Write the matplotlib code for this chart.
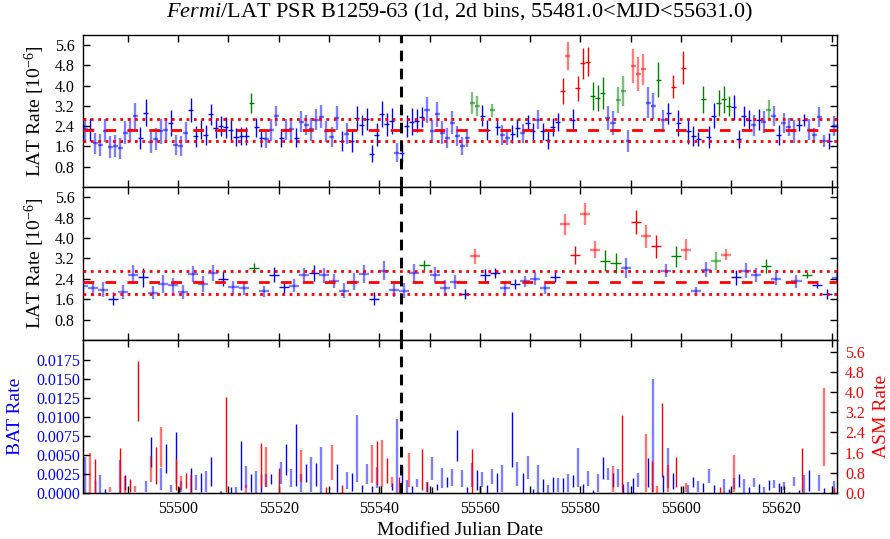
import numpy as np
import matplotlib
matplotlib.use('Agg')
import matplotlib.pyplot as plt
from matplotlib.ticker import MultipleLocator, FixedLocator, FormatStrFormatter

plt.rcParams['font.family'] = ['Liberation Serif', 'DejaVu Serif']
plt.rcParams['mathtext.fontset'] = 'custom'
plt.rcParams['mathtext.rm'] = 'Liberation Serif'
plt.rcParams['mathtext.it'] = 'Liberation Serif:italic'

MJD_START, MJD_STOP = 55481.0, 55631.0
PERIASTRON = 55544.3

# LAT light curve, 1-day bins (rate in 1e-6 ph/cm2/s)
lat1_mjd = 55481.5 + np.arange(150)
lat1_rate = np.array([
    2.28, 2.28, 1.73, 1.67, 2.22, 1.57, 1.63, 1.53, 2.15, 2.26,
    2.81, 1.93, 2.94, 1.76, 1.89, 2.19, 2.26, 2.52, 1.67, 1.63,
    2.15, 3.04, 2.00, 2.26, 2.05, 2.87, 2.31, 2.41, 2.35, 2.26,
    1.97, 2.00, 2.00, 3.31, 2.35, 1.93, 1.89, 2.24, 2.79, 1.93,
    2.26, 2.28, 1.94, 2.58, 2.45, 2.28, 2.65, 2.78, 2.19, 1.97,
    2.72, 1.80, 2.10, 1.80, 2.72, 2.45, 2.68, 1.31, 2.06, 2.89,
    2.47, 2.62, 1.36, 1.34, 2.41, 2.58, 2.62, 2.76, 3.04, 2.19,
    2.87, 2.15, 1.93, 2.54, 2.00, 1.63, 1.93, 3.33, 3.20, 2.81,
    2.26, 3.02, 2.36, 2.06, 1.95, 2.10, 2.32, 2.12, 2.52, 2.19,
    2.65, 2.19, 1.84, 2.36, 2.58, 3.79, 5.17, 2.65, 3.90, 4.88,
    4.95, 3.59, 3.50, 3.70, 2.72, 2.52, 3.44, 3.79, 1.80, 4.78,
    4.46, 4.64, 3.33, 3.20, 4.23, 2.65, 2.91, 3.96, 2.52, 4.71,
    2.19, 2.00, 1.89, 3.46, 1.97, 2.81, 3.31, 3.46, 3.20, 3.15,
    1.89, 2.81, 2.65, 2.43, 2.65, 2.56, 3.04, 2.81, 2.06, 2.54,
    2.36, 2.19, 2.45, 2.65, 2.26, 2.06, 2.76, 1.82, 1.82, 2.41])
lat1_err = np.array([
    0.43, 0.46, 0.41, 0.43, 0.46, 0.43, 0.44, 0.41, 0.46, 0.47,
    0.52, 0.45, 0.54, 0.41, 0.44, 0.49, 0.48, 0.50, 0.39, 0.39,
    0.43, 0.46, 0.41, 0.38, 0.39, 0.41, 0.39, 0.38, 0.41, 0.39,
    0.35, 0.36, 0.35, 0.39, 0.36, 0.36, 0.34, 0.43, 0.39, 0.37,
    0.41, 0.43, 0.37, 0.41, 0.41, 0.45, 0.41, 0.46, 0.41, 0.41,
    0.47, 0.39, 0.41, 0.43, 0.47, 0.41, 0.43, 0.33, 0.45, 0.52,
    0.46, 0.51, 0.36, 0.37, 0.43, 0.52, 0.46, 0.39, 0.50, 0.47,
    0.49, 0.45, 0.39, 0.44, 0.39, 0.36, 0.37, 0.43, 0.40, 0.42,
    0.39, 0.26, 0.31, 0.39, 0.31, 0.36, 0.35, 0.37, 0.33, 0.34,
    0.38, 0.33, 0.35, 0.35, 0.36, 0.51, 0.57, 0.41, 0.49, 0.61,
    0.58, 0.55, 0.51, 0.64, 0.47, 0.48, 0.52, 0.58, 0.43, 0.66,
    0.68, 0.62, 0.61, 0.51, 0.69, 0.39, 0.42, 0.46, 0.52, 0.66,
    0.49, 0.39, 0.28, 0.52, 0.43, 0.49, 0.52, 0.52, 0.38, 0.49,
    0.36, 0.39, 0.39, 0.43, 0.41, 0.43, 0.38, 0.39, 0.39, 0.39,
    0.36, 0.46, 0.25, 0.25, 0.41, 0.26, 0.38, 0.24, 0.33, 0.41])
lat1_green = [33, 77, 78, 81, 101, 102, 103, 106, 107, 114, 123, 126, 127, 128, 136]
lat1_red = [95, 96, 98, 99, 100, 109, 110, 111, 117, 119]
lat1_faint = [0, 2, 3, 4, 5, 6, 7, 8, 9, 10, 13, 14, 15, 16, 18, 19, 20, 36, 37, 38,
              40, 41, 43, 44, 45, 46, 47, 48, 49, 50, 52, 62, 68, 69, 70, 71, 72, 73,
              74, 75, 76, 77, 78, 81, 83, 84, 87, 90, 96, 104, 105, 106, 107, 108, 109,
              110, 111, 112, 113, 115, 133, 135, 136, 137, 139, 140, 141, 144, 145,
              146, 147, 149]

# LAT light curve, 2-day bins
lat2_mjd = 55481.0 + 2 * np.arange(76)
lat2_rate = np.array([
    2.11, 2.02, 1.98, 1.62, 1.88, 2.56, 2.46, 1.85, 2.20, 2.15,
    1.88, 2.59, 2.20, 2.63, 2.40, 2.07, 2.02, 2.83, 1.91, 2.56,
    2.08, 2.13, 2.54, 2.63, 2.54, 2.30, 1.94, 2.28, 2.59, 1.62,
    2.72, 1.98, 1.94, 2.63, 2.93, 2.56, 2.04, 2.28, 1.81, 3.28,
    2.54, 2.63, 2.02, 2.20, 2.30, 2.41, 2.02, 2.46, 4.53, 3.32,
    4.94, 3.54, 3.11, 3.02, 2.83, 4.63, 4.07, 3.68, 2.72, 3.28,
    3.54, 1.94, 2.76, 3.09, 3.35, 2.46, 2.72, 2.56, 2.89, 2.41,
    np.nan, 2.30, 2.56, 2.17, 1.81, 2.43])
lat2_err = np.array([
    0.25, 0.30, 0.28, 0.25, 0.28, 0.38, 0.38, 0.25, 0.35, 0.30,
    0.28, 0.30, 0.30, 0.33, 0.30, 0.25, 0.25, 0.18, 0.22, 0.30,
    0.25, 0.25, 0.30, 0.33, 0.30, 0.28, 0.30, 0.33, 0.35, 0.25,
    0.38, 0.30, 0.28, 0.35, 0.20, 0.30, 0.30, 0.28, 0.20, 0.30,
    0.25, 0.20, 0.20, 0.20, 0.22, 0.25, 0.22, 0.20, 0.40, 0.35,
    0.42, 0.33, 0.42, 0.38, 0.40, 0.47, 0.45, 0.45, 0.25, 0.42,
    0.42, 0.15, 0.28, 0.35, 0.20, 0.30, 0.30, 0.28, 0.28, 0.25,
    np.nan, 0.25, 0.12, 0.15, 0.20, 0.20])
lat2_green = [17, 34, 52, 53, 59, 63, 68, 72]
lat2_red = [39, 48, 49, 50, 51, 55, 56, 57, 60, 64]
lat2_faint = [0, 1, 2, 4, 5, 7, 8, 9, 10, 11, 12, 13, 15, 16, 18, 21, 22, 24, 25, 26,
              27, 28, 30, 31, 32, 33, 35, 36, 37, 39, 42, 44, 45, 46, 48, 50, 51, 54,
              56, 58, 60, 61, 62, 63, 64, 66, 67, 69, 71, 75]

# mean flux and +/- 1 sigma band
lat_mean = 2.26
lat_band = (1.82, 2.70)

# Swift/BAT daily rate (units of 1e-3 cts/cm2/s)
bat_mjd = [
    55481.5, 55483.5, 55484.5, 55485.5, 55488.5, 55489.5, 55493.5, 55494.5, 55496.5, 55497.5,
    55498.5, 55499.5, 55500.5, 55502.5, 55503.5, 55504.5, 55505.5, 55506.5, 55508.5, 55510.5,
    55511.5, 55512.5, 55513.5, 55514.5, 55515.5, 55516.5, 55517.5, 55518.5, 55520.5, 55521.5,
    55522.5, 55523.5, 55524.5, 55525.5, 55526.5, 55527.5, 55528.5, 55531.5, 55533.5, 55534.5,
    55535.5, 55536.5, 55537.5, 55538.5, 55539.5, 55542.5, 55543.5, 55544.5, 55545.5, 55546.5,
    55547.5, 55549.5, 55550.5, 55551.5, 55552.5, 55553.5, 55554.5, 55555.5, 55556.5, 55557.5,
    55558.5, 55559.5, 55560.5, 55561.5, 55562.5, 55563.5, 55564.5, 55566.5, 55567.5, 55568.5,
    55569.5, 55570.5, 55571.5, 55572.5, 55573.5, 55574.5, 55575.5, 55576.5, 55577.5, 55578.5,
    55579.5, 55580.5, 55581.5, 55582.5, 55583.5, 55584.5, 55585.5, 55586.5, 55587.5, 55588.5,
    55589.5, 55590.5, 55591.5, 55593.5, 55594.5, 55596.5, 55597.5, 55598.5, 55601.5, 55602.5,
    55603.5, 55604.5, 55605.5, 55606.5, 55608.5, 55609.5, 55610.5, 55611.5, 55612.5, 55613.5,
    55614.5, 55615.5, 55616.5, 55617.5, 55618.5, 55619.5, 55620.5, 55621.5, 55622.5, 55623.5,
    55624.5, 55625.5, 55627.5, 55628.5, 55630.5]
bat_rate = np.array([
    2.38, 0.88, 1.21, 0.26, 2.20, 1.39, 0.88, 5.42, 1.87, 4.54,
    0.62, 4.66, 0.90, 1.72, 1.39, 1.43, 1.54, 2.84, 0.15, 0.44,
    0.44, 3.64, 2.10, 1.32, 1.50, 1.32, 1.68, 1.85, 2.65, 4.43,
    1.99, 5.05, 1.35, 2.67, 2.45, 2.45, 3.08, 1.99, 1.65, 1.50,
    5.90, 0.62, 2.51, 0.55, 2.05, 0.88, 4.89, 2.43, 0.88, 0.51,
    1.32, 0.84, 3.22, 0.79, 1.94, 1.50, 2.03, 6.31, 1.94, 0.40,
    2.38, 1.72, 1.83, 0.55, 2.16, 1.39, 1.94, 7.12, 2.49, 1.32,
    3.35, 0.26, 1.87, 0.99, 0.55, 1.17, 1.06, 1.06, 1.34, 1.57,
    3.37, 0.62, 1.92, 0.22, 1.32, 3.31, 2.54, 1.76, 1.98, 0.62,
    0.77, 0.99, 1.72, 2.76, 7.60, 1.30, 3.27, 1.59, 0.55, 1.50,
    0.90, 0.77, 2.21, 0.55, 0.93, 0.26, 1.21, 1.68, 0.93, 0.44,
    1.39, 0.62, 0.44, 1.06, 1.17, 0.73, 0.95, 0.11, 1.54, 0.22,
    1.21, 1.68, 1.34, 0.35, 0.84]) * 1e-3
bat_err = np.array([
    2.34, 0.84, 1.17, 0.23, 2.16, 0.99, 0.70, 1.94, 1.48, 1.94,
    0.44, 3.37, 0.73, 1.54, 0.99, 1.25, 1.37, 1.88, 0.11, 0.40,
    0.40, 3.24, 1.48, 1.15, 1.46, 1.15, 0.84, 0.66, 1.50, 2.05,
    1.15, 4.08, 1.17, 1.17, 2.27, 1.48, 3.04, 1.81, 1.17, 1.19,
    4.40, 0.44, 1.32, 0.38, 1.43, 0.48, 4.85, 1.15, 0.84, 0.46,
    0.49, 0.66, 1.50, 0.40, 1.32, 0.66, 1.10, 2.03, 1.10, 0.36,
    1.54, 1.32, 0.99, 0.51, 0.97, 1.21, 1.76, 3.64, 1.57, 1.28,
    1.54, 0.23, 1.83, 0.82, 0.51, 0.99, 0.88, 0.88, 1.17, 0.82,
    2.54, 0.58, 0.99, 0.18, 1.15, 1.50, 0.82, 0.93, 1.15, 0.58,
    0.73, 0.95, 0.88, 1.92, 7.42, 1.10, 2.65, 1.10, 0.51, 0.66,
    0.73, 0.60, 0.93, 0.51, 0.88, 0.23, 0.73, 0.84, 0.88, 0.40,
    0.55, 0.58, 0.40, 0.66, 0.55, 0.55, 0.55, 0.07, 0.62, 0.18,
    1.17, 1.37, 1.04, 0.31, 0.79]) * 1e-3

# RXTE/ASM daily rate (cts/s)
asm_mjd = [
    55482.5, 55483.5, 55486.5, 55488.5, 55489.5, 55490.5, 55491.5, 55492.1, 55494.5, 55495.5,
    55496.5, 55499.5, 55500.5, 55501.5, 55502.5, 55509.5, 55513.5, 55516.5, 55517.5, 55520.0,
    55524.5, 55529.5, 55530.5, 55532.5, 55538.5, 55539.5, 55540.5, 55541.5, 55542.5, 55544.0,
    55546.0, 55548.5, 55549.5, 55558.5, 55586.5, 55588.2, 55593.0, 55594.2, 55595.3, 55596.2,
    55597.5, 55599.0, 55601.0, 55607.7, 55610.5, 55624.0, 55628.5, 55630.5]
asm_rate = [
    0.79, 0.67, 0.14, 0.89, 0.34, 0.30, 0.17, 4.04, 0.96, 1.08,
    1.82, 0.73, 0.40, 0.48, 0.36, 1.93, 0.16, 1.11, 1.03, 0.50,
    1.08, 0.13, 1.21, 0.16, 1.14, 1.20, 1.18, 0.88, 0.45, 0.33,
    0.92, 0.92, 0.25, 0.87, 0.56, 1.57, 1.20, 0.67, 0.15, 2.10,
    0.58, 0.83, 0.22, 0.13, 0.78, 0.91, 2.61, 0.11]
asm_err = [
    0.78, 0.66, 0.09, 0.88, 0.33, 0.25, 0.12, 1.19, 0.51, 0.73,
    0.78, 0.61, 0.28, 0.30, 0.35, 1.88, 0.15, 0.86, 0.78, 0.48,
    0.63, 0.12, 0.69, 0.15, 0.75, 0.88, 0.93, 0.50, 0.20, 0.32,
    0.67, 0.81, 0.20, 0.86, 0.51, 1.52, 1.14, 0.61, 0.14, 1.45,
    0.53, 0.58, 0.17, 0.12, 0.73, 0.86, 1.54, 0.10]

# days with neither instrument flagged (plotted in black)
other_mjd = [55500.2, 55540.3, 55550.5, 55560.0, 55600.5, 55620.5]
other_rate = [0.15, 0.15, 0.12, 0.15, 0.15, 0.14]
other_err = [0.10, 0.14, 0.11, 0.14, 0.14, 0.13]

BLUE, GREEN, RED = '#0000ff', '#008000', '#ff0000'


def draw_lat(ax, mjd, rate, err, halfwidth, green, red, faint):
    n = len(rate)
    colour = np.array([BLUE] * n, dtype=object)
    colour[green] = GREEN
    colour[red] = RED
    light = np.zeros(n, dtype=bool)
    light[faint] = True
    ok = ~np.isnan(rate)
    for c in (BLUE, GREEN, RED):
        for is_light in (True, False):
            m = ok & (colour == c) & (light == is_light)
            if not m.any():
                continue
            ax.errorbar(mjd[m], rate[m], yerr=err[m], xerr=halfwidth, fmt='none',
                        ecolor=c, elinewidth=1.7 if is_light else 1.0,
                        alpha=0.5 if is_light else 1.0, capsize=0, zorder=3)
    ax.axhline(lat_mean, color=RED, lw=2, ls=(0, (3.85, 4.05)), zorder=5)
    for lev in lat_band:
        ax.axhline(lev, color=RED, lw=2, ls=(0, (1, 1.65)), zorder=5)
    ax.axvline(PERIASTRON, color='black', lw=2.2, ls=(0, (3.5, 2.4)), zorder=6)
    ax.set_ylim(0, 6.0)
    ax.yaxis.set_major_locator(FixedLocator([0.8, 1.6, 2.4, 3.2, 4.0, 4.8, 5.6]))
    ax.yaxis.set_major_formatter(FormatStrFormatter('%.1f'))
    ax.set_ylabel(r'LAT Rate [10$^{-6}$]', fontsize=14, va='center')
    ax.yaxis.set_label_coords(-0.063, 0.5)


def style_x(ax, labels):
    ax.set_xlim(MJD_START, MJD_STOP)
    ax.xaxis.set_major_locator(MultipleLocator(20))
    ax.xaxis.set_minor_locator(MultipleLocator(10))
    ax.xaxis.set_major_formatter(FormatStrFormatter('%d'))
    ax.tick_params(which='both', direction='in', top=True, right=True, length=5,
                   width=1, labelsize=11.5, pad=6, labelbottom=labels)
    for s in ax.spines.values():
        s.set_linewidth(1.0)


fig = plt.figure(figsize=(8.9, 5.39), dpi=100)
L, W = 0.0929, 0.8472
ax1 = fig.add_axes([L, 0.6531, W, 0.2820])
ax2 = fig.add_axes([L, 0.3692, W, 0.2839])
ax3 = fig.add_axes([L, 0.0853, W, 0.2839])

draw_lat(ax1, lat1_mjd, lat1_rate, lat1_err, 0.5, lat1_green, lat1_red, lat1_faint)
draw_lat(ax2, lat2_mjd, lat2_rate, lat2_err, 1.0, lat2_green, lat2_red, lat2_faint)
style_x(ax1, False)
style_x(ax2, False)

# X-ray panel: BAT on the left axis, ASM on the right
bat_mjd = np.array(bat_mjd)
idx = np.arange(len(bat_mjd))
for sel, lw, a in ((idx % 2 == 0, 1.7, 0.5), (idx % 2 == 1, 1.0, 1.0)):
    ax3.errorbar(bat_mjd[sel], bat_rate[sel], yerr=bat_err[sel], fmt='none',
                 ecolor=BLUE, elinewidth=lw, alpha=a, capsize=0)
style_x(ax3, True)
ax3.tick_params(axis='y', which='both', right=False, labelcolor=BLUE, pad=2)
ax3.set_ylim(0, 0.0202)
ax3.yaxis.set_major_locator(FixedLocator([0.0, 0.0025, 0.005, 0.0075, 0.01,
                                          0.0125, 0.015, 0.0175]))
ax3.yaxis.set_major_formatter(FormatStrFormatter('%.4f'))
ax3.set_ylabel('BAT Rate', color=BLUE, fontsize=14, va='center')
ax3.yaxis.set_label_coords(-0.0885, 0.5)
ax3.set_xlabel('Modified Julian Date', fontsize=14, va='center')
ax3.xaxis.set_label_coords(0.5, -0.242)

ax4 = ax3.twinx()
asm_mjd = np.array(asm_mjd)
asm_rate = np.array(asm_rate)
asm_err = np.array(asm_err)
jdx = np.arange(len(asm_mjd))
for sel, lw, a in ((jdx % 2 == 0, 1.7, 0.55), (jdx % 2 == 1, 1.0, 1.0)):
    ax4.errorbar(asm_mjd[sel], asm_rate[sel], yerr=asm_err[sel], fmt='none',
                 ecolor=RED, elinewidth=lw, alpha=a, capsize=0)
ax4.errorbar(other_mjd, other_rate, yerr=other_err, fmt='none', ecolor='black',
             elinewidth=1.0, capsize=0)
ax4.axvline(PERIASTRON, color='black', lw=2.2, ls=(0, (3.5, 2.4)), zorder=6)
ax4.set_xlim(MJD_START, MJD_STOP)
ax4.set_ylim(0, 6.06)
ax4.yaxis.set_major_locator(FixedLocator([0.0, 0.8, 1.6, 2.4, 3.2, 4.0, 4.8, 5.6]))
ax4.yaxis.set_major_formatter(FormatStrFormatter('%.1f'))
ax4.tick_params(axis='y', direction='in', length=5, width=1, labelsize=11.5,
                labelcolor=RED, pad=6)
ax4.set_ylabel('ASM Rate', color=RED, fontsize=14, va='center', rotation=90)
ax4.yaxis.set_label_coords(1.0597, 0.5)

fig.text(0.5165, 0.9777,
         r'$\mathit{Fermi}$/LAT PSR B1259-63 (1d, 2d bins, 55481.0<MJD<55631.0)',
         ha='center', va='center', fontsize=16)

fig.savefig('out.png', dpi=100)
